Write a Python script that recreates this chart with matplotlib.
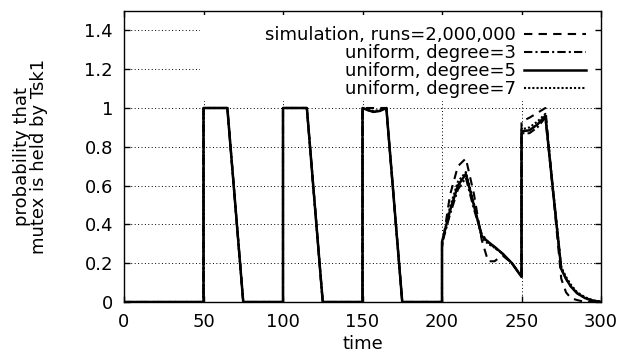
import matplotlib
matplotlib.use("Agg")
import matplotlib.pyplot as plt
from matplotlib.patches import Rectangle

# time grid (duplicated times give the vertical jumps)
time = [0, 50, 50, 65, 75, 100, 100, 115, 125, 150, 150, 153, 157, 161, 165, 175,
        200, 200, 205, 210, 215, 220, 225, 229, 233, 238, 244, 250, 250,
        255, 260, 265, 270, 275, 278, 281, 285, 290, 295, 300]

sim = [0, 0, 1, 1, 0, 0, 1, 1, 0, 0, 1, 1, 1, 1, 1, 0,
       0, 0.28, 0.55, 0.70, 0.74, 0.56, 0.32, 0.21, 0.21, 0.24, 0.20, 0.13, 0.93,
       0.95, 0.975, 1.0, 0.55, 0.12, 0.05, 0.02, 0.01, 0, 0, 0]

deg3 = [0, 0, 1, 1, 0, 0, 1, 1, 0, 0, 1, 0.99, 0.98, 0.985, 1, 0,
        0, 0.30, 0.45, 0.58, 0.64, 0.48, 0.35, 0.31, 0.28, 0.25, 0.20, 0.13, 0.87,
        0.87, 0.90, 0.95, 0.56, 0.17, 0.12, 0.08, 0.045, 0.02, 0.006, 0.001]

deg5 = [0, 0, 1, 1, 0, 0, 1, 1, 0, 0, 1, 0.99, 0.98, 0.985, 1, 0,
        0, 0.31, 0.47, 0.60, 0.66, 0.50, 0.34, 0.31, 0.285, 0.25, 0.20, 0.13, 0.88,
        0.885, 0.915, 0.96, 0.56, 0.17, 0.12, 0.08, 0.045, 0.02, 0.007, 0.001]

deg7 = [0, 0, 1, 1, 0, 0, 1, 1, 0, 0, 1, 0.99, 0.985, 0.99, 1, 0,
        0, 0.30, 0.49, 0.62, 0.67, 0.51, 0.33, 0.30, 0.28, 0.25, 0.20, 0.13, 0.89,
        0.90, 0.93, 0.97, 0.57, 0.18, 0.13, 0.09, 0.05, 0.025, 0.008, 0.002]

labels = ['simulation, runs=2,000,000', 'uniform, degree=3',
          'uniform, degree=5', 'uniform, degree=7']

xticks = [0, 50, 100, 150, 200, 250, 300]
yticks = [0, 0.2, 0.4, 0.6, 0.8, 1.0, 1.2, 1.4]
yticklabels = ['0', '0.2', '0.4', '0.6', '0.8', '1', '1.2', '1.4']

plt.rcParams['font.family'] = 'DejaVu Sans'
plt.rcParams['font.size'] = 13

fig = plt.figure(figsize=(6.43, 3.61), dpi=100)
ax = fig.add_axes([124 / 643, 1 - 302 / 361, 477 / 643, 291 / 361])

ax.plot(time, sim, color='black', lw=1.5, ls=(0, (4, 3)), label=labels[0])
ax.plot(time, deg3, color='black', lw=1.5, ls=(0, (4, 1.5, 1, 1.5)), label=labels[1])
ax.plot(time, deg5, color='black', lw=1.8, ls='-', label=labels[2])
ax.plot(time, deg7, color='black', lw=1.5, ls=(0, (1, 1)), label=labels[3])

ax.set_xlim(0, 300)
ax.set_ylim(0, 1.5)
ax.set_xticks(xticks)
ax.set_yticks(yticks)
ax.set_yticklabels(yticklabels)
ax.tick_params(direction='in', top=True, right=True, length=4, width=1, pad=8)
ax.grid(True, color='black', lw=0.7, ls=(0, (1, 2.5)))
for s in ax.spines.values():
    s.set_linewidth(1)

# white key box hiding the grid (gnuplot style), leaving border ticks visible
ax.add_patch(Rectangle((0.159, 0.69), 0.829, 0.296, transform=ax.transAxes,
                       facecolor='white', edgecolor='none', zorder=1.8))

ax.set_xlabel('time')
ax.xaxis.set_label_coords(0.5, -0.115)
ax.set_ylabel('probability that\nmutex is held by Tsk1', linespacing=0.95)
ax.yaxis.set_label_coords(-0.159, 0.5)

leg = ax.legend(loc='upper right', markerfirst=False, frameon=False,
                handlelength=3.4, handletextpad=0.45, labelspacing=0.0,
                borderpad=0.25, borderaxespad=0.6)

fig.savefig('out.png', dpi=100)
